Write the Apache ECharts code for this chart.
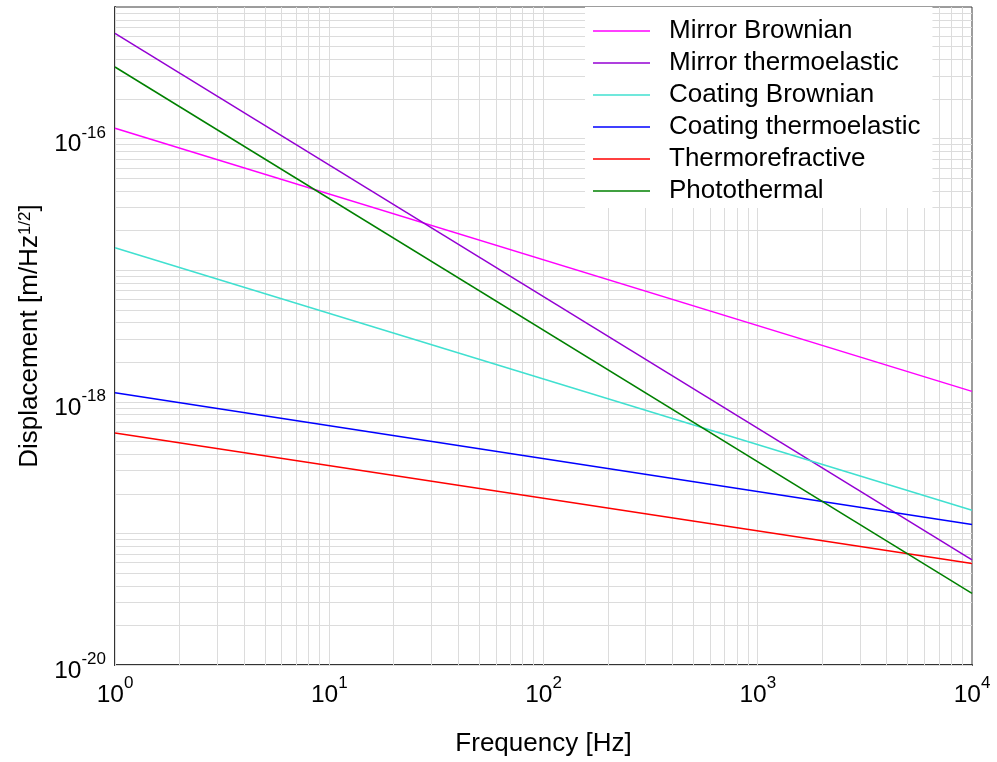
<!DOCTYPE html>
<html>
<head>
<meta charset="utf-8">
<script src="https://cdn.jsdelivr.net/npm/echarts@6/dist/echarts.min.js"></script>
<style>
html,body{margin:0;padding:0;background:#fff;}
#chart{width:997px;height:762px;}
</style>
</head>
<body>
<div id="chart"></div>
<script>
// Frequency endpoints (Hz) - all curves are straight on log-log axes
const frequency = [1, 10000];
const seriesNames = ['Mirror Brownian', 'Mirror thermoelastic', 'Coating Brownian', 'Coating thermoelastic', 'Thermorefractive', 'Photothermal'];
const mirrorBrownian = [1.2e-16, 1.2e-18];
const mirrorThermoelastic = [6.3e-16, 6.3e-20];
const coatingBrownian = [1.48e-17, 1.5e-19];
const coatingThermoelastic = [1.17e-18, 1.17e-19];
const thermorefractive = [5.8e-19, 5.9e-20];
const photothermal = [3.5e-16, 3.5e-20];
const seriesValues = [mirrorBrownian, mirrorThermoelastic, coatingBrownian, coatingThermoelastic, thermorefractive, photothermal];
const seriesColors = ['#ff00ff', '#9400d3', '#40e0d0', '#0000ff', '#ff0000', '#008000'];
const xDecades = [0, 1, 2, 3];
const yDecades = [-20, -19, -18, -17, -16];
const gridMultipliers = [1, 2, 3, 4, 5, 6, 7, 8, 9];

const FONT = "'Liberation Sans', Arial, Helvetica, sans-serif";
const X_MIN = 1, X_MAX = 10000, Y_MIN = 1e-20, Y_MAX = 1e-15;

const gridLines = [];
xDecades.forEach(d => gridMultipliers.forEach(m => {
  const v = m * Math.pow(10, d);
  gridLines.push([{coord: [v, Y_MIN]}, {coord: [v, Y_MAX]}]);
}));
yDecades.forEach(d => gridMultipliers.forEach(m => {
  const v = m * Math.pow(10, d);
  gridLines.push([{coord: [X_MIN, v]}, {coord: [X_MAX, v]}]);
}));

function powLabel(v) {
  const e = Math.round(Math.log10(v));
  return '{b|10}{s|' + e + '}';
}
const richLabel = {
  b: {fontSize: 24.5, lineHeight: 40, color: '#000', fontFamily: FONT, verticalAlign: 'middle'},
  s: {fontSize: 17, lineHeight: 17, color: '#000', fontFamily: FONT, verticalAlign: 'top'}
};

const series = [{
  name: '__grid',
  type: 'line',
  data: [],
  z: 1,
  silent: true,
  animation: false,
  markLine: {
    silent: true,
    symbol: 'none',
    animation: false,
    z: 1,
    label: {show: false},
    emphasis: {disabled: true},
    lineStyle: {color: '#dcdcdc', width: 1, type: 'solid'},
    data: gridLines
  }
}];
seriesNames.forEach((n, i) => {
  series.push({
    name: n,
    type: 'line',
    data: frequency.map((f, j) => [f, seriesValues[i][j]]),
    symbol: 'none',
    showSymbol: false,
    z: 3,
    animation: false,
    lineStyle: {color: seriesColors[i], width: 1.5},
    itemStyle: {color: seriesColors[i]}
  });
});

const chart = echarts.init(document.getElementById('chart'));
chart.setOption({
  backgroundColor: '#fff',
  animation: false,
  textStyle: {fontFamily: FONT},
  grid: {
    left: 115, right: 25, top: 7, bottom: 93,
    show: true, borderColor: '#3a3a3a', borderWidth: 1, backgroundColor: 'transparent'
  },
  legend: {
    data: seriesNames,
    orient: 'vertical',
    left: 585,
    top: 7,
    z: 4,
    backgroundColor: '#fff',
    padding: [11, 12, 4, 8],
    icon: 'rect',
    itemWidth: 57,
    itemHeight: 1.5,
    itemGap: 6,
    selectedMode: false,
    textStyle: {fontSize: 26, lineHeight: 24, color: '#000', fontFamily: FONT, padding: [0, 0, 0, 14]}
  },
  xAxis: {
    type: 'log',
    logBase: 10,
    min: X_MIN,
    max: X_MAX,
    name: 'Frequency [Hz]',
    nameLocation: 'middle',
    nameGap: 66,
    nameTextStyle: {fontSize: 26, color: '#000', fontFamily: FONT},
    axisLine: {show: true, lineStyle: {color: '#333', width: 2}},
    axisTick: {show: false},
    splitLine: {show: false},
    minorSplitLine: {show: false},
    axisLabel: {
      margin: 10,
      formatter: powLabel,
      rich: richLabel
    }
  },
  yAxis: {
    type: 'log',
    logBase: 10,
    min: Y_MIN,
    max: Y_MAX,
    name: 'Displacement [m/Hz{s|1/2}]',
    nameLocation: 'middle',
    nameRotate: 90,
    nameGap: 64,
    nameTextStyle: {
      fontSize: 26, color: '#000', fontFamily: FONT,
      rich: {s: {fontSize: 17, fontFamily: FONT, color: '#000', verticalAlign: 'top', lineHeight: 16}}
    },
    axisLine: {show: true, lineStyle: {color: '#333', width: 2}},
    axisTick: {show: false},
    splitLine: {show: false},
    axisLabel: {
      margin: 9,
      padding: [12, 0, 0, 0],
      formatter: function (v) {
        const e = Math.round(Math.log10(v));
        if (e % 2 !== 0) return '';
        return powLabel(v);
      },
      rich: richLabel
    }
  },
  series: series
});
</script>
</body>
</html>
